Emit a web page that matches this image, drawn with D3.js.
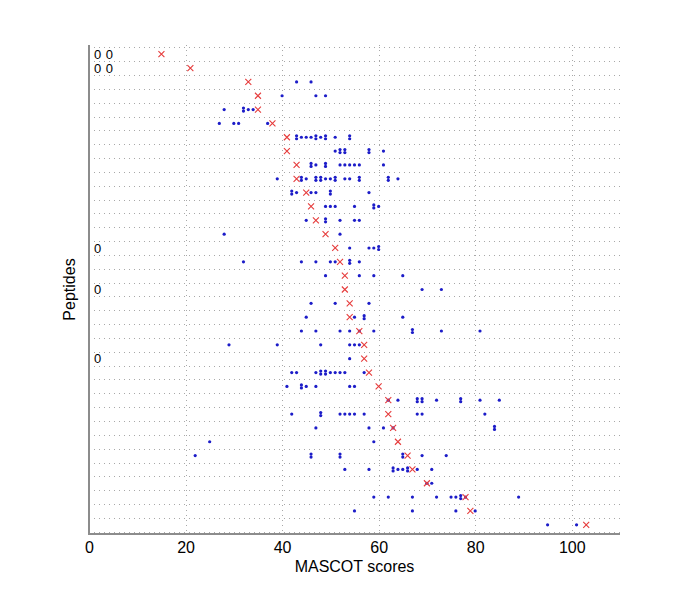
<!DOCTYPE html>
<html>
<head>
<meta charset="utf-8">
<script src="https://cdn.jsdelivr.net/npm/d3@7"></script>
<style>
  body { margin: 0; background: #fff; }
  svg { font-family: "Liberation Sans", Arial, sans-serif; }
</style>
</head>
<body>
<svg id="chart" width="685" height="601"></svg>
<script>
// best score per peptide row (red crosses), top row first
const bestScores = [15, 21, 33, 35, 35, 38, 41, 41, 43, 43, 45, 46, 47, 49, 51, 52, 53, 53,
  54, 54, 56, 57, 57, 58, 60, 62, 62, 63, 64, 66, 67, 70, 78, 79, 103];

// other scores per peptide row (blue dots)
const otherScores = [
  [],
  [],
  [43, 46],
  [40, 47, 49],
  [28, 32, 32, 33, 34],
  [27, 30, 31, 37],
  [43, 43, 44, 45, 46, 47, 47, 48, 49, 49, 51, 54, 54],
  [51, 52, 52, 53, 53, 58, 58, 61],
  [46, 46, 47, 49, 49, 52, 53, 54, 55, 56, 61],
  [39, 44, 44, 45, 47, 47, 48, 48, 49, 50, 51, 51, 53, 54, 56, 56, 62, 62, 64],
  [42, 42, 43, 46, 47, 50, 50, 58],
  [49, 50, 51, 55, 59, 59, 60],
  [45, 49, 49, 52, 55, 56],
  [28, 52],
  [54, 58, 59, 60, 60],
  [32, 44, 47, 50, 51, 54, 54, 56],
  [49, 56, 59, 65],
  [69, 73],
  [46, 51, 58],
  [45, 55, 57, 57, 65],
  [44, 47, 52, 54, 56, 59, 67, 67, 73, 81],
  [29, 39, 48, 54, 55, 56],
  [54],
  [42, 43, 47, 48, 48, 49, 49, 50, 51, 52, 53, 57],
  [41, 44, 44, 45, 47, 54, 55],
  [62, 64, 68, 68, 69, 69, 72, 77, 77, 81, 85],
  [42, 48, 48, 52, 53, 54, 55, 57, 68, 69, 82],
  [47, 58, 61, 63, 84, 84],
  [25, 59],
  [22, 46, 46, 52, 52, 65, 65, 69, 74],
  [53, 58, 63, 63, 64, 65, 66, 66, 68, 71],
  [70, 71],
  [59, 62, 67, 72, 75, 76, 77, 77, 78, 89],
  [55, 67, 76, 80],
  [95, 101]
];

const noteRows = [0, 1, 14, 17, 22];
const noteTexts = ["0 0", "0 0", "0", "0", "0"];

const xTicks = [0, 20, 40, 60, 80, 100];

const svg = d3.select("#chart");
const margin = { top: 45, right: 65, bottom: 67, left: 89 };
const width = +svg.attr("width");
const height = +svg.attr("height");

const x = d3.scaleLinear()
  .domain([0, 110])
  .range([margin.left, width - margin.right]);

const y = d3.scaleBand()
  .domain(d3.range(bestScores.length))
  .range([47.3, 531.7]);

const plotBottom = height - margin.bottom;

// horizontal dotted grid at row edges
const grid = svg.append("g").attr("stroke", "#a8a8a8").attr("stroke-width", 1)
  .attr("stroke-dasharray", "1,4");
d3.range(bestScores.length + 1).forEach(i => {
  const yy = Math.round(y.range()[0] + i * y.step()) + 0.5;
  grid.append("line")
    .attr("x1", margin.left).attr("x2", width - margin.right)
    .attr("y1", yy).attr("y2", yy);
});
// vertical dotted grid at ticks
xTicks.filter(d => d > 0).forEach(d => {
  grid.append("line")
    .attr("x1", Math.round(x(d)) + 0.5).attr("x2", Math.round(x(d)) + 0.5)
    .attr("y1", margin.top).attr("y2", plotBottom);
});

// blue dots, repeated values stacked a little
const dots = [];
otherScores.forEach((row, i) => {
  const counts = d3.rollup(row, v => v.length, d => d);
  const seen = new Map();
  row.forEach(v => {
    const n = counts.get(v);
    const k = seen.get(v) || 0;
    seen.set(v, k + 1);
    dots.push({ row: i, value: v, off: (k - (n - 1) / 2) * 3 });
  });
});

svg.append("g").selectAll("circle")
  .data(dots)
  .join("circle")
  .attr("cx", d => x(d.value))
  .attr("cy", d => y(d.row) + y.bandwidth() / 2 + d.off)
  .attr("r", 1.6)
  .attr("fill", "#1c1cc8");

// red crosses
const s = 3;
svg.append("g").selectAll("path")
  .data(bestScores)
  .join("path")
  .attr("transform", (d, i) => `translate(${x(d)},${y(i) + y.bandwidth() / 2})`)
  .attr("d", `M${-s},${-s}L${s},${s}M${-s},${s}L${s},${-s}`)
  .attr("stroke", "#e63c3c")
  .attr("stroke-width", 1.1)
  .attr("fill", "none");

// notes on the left
svg.append("g").selectAll("text")
  .data(noteRows)
  .join("text")
  .attr("x", 94)
  .attr("y", d => y(d) + y.bandwidth() / 2)
  .attr("dy", "0.36em")
  .style("font-size", "13px")
  .style("word-spacing", "1px")
  .attr("fill", "#000")
  .text((d, i) => noteTexts[i]);

// axes
const xAxis = svg.append("g")
  .attr("transform", `translate(0,${plotBottom})`)
  .call(d3.axisBottom(x).tickValues(xTicks).tickSize(0).tickPadding(8));
xAxis.select(".domain").attr("stroke", "#8c8c8c").attr("stroke-width", 2)
  .attr("d", `M${margin.left},0H${width - margin.right}`);
xAxis.selectAll("text").style("font-size", "16px").attr("fill", "#000")
  .style("font-family", "Liberation Sans, Arial, sans-serif");

svg.append("line")
  .attr("x1", margin.left).attr("x2", margin.left)
  .attr("y1", margin.top).attr("y2", plotBottom + 1)
  .attr("stroke", "#8c8c8c").attr("stroke-width", 2);

svg.append("text")
  .attr("x", x(55))
  .attr("y", 572)
  .attr("text-anchor", "middle")
  .style("font-size", "16px")
  .text("MASCOT scores");

svg.append("text")
  .attr("transform", `translate(75,${(margin.top + plotBottom) / 2}) rotate(-90)`)
  .attr("text-anchor", "middle")
  .style("font-size", "16px")
  .text("Peptides");
</script>
</body>
</html>
